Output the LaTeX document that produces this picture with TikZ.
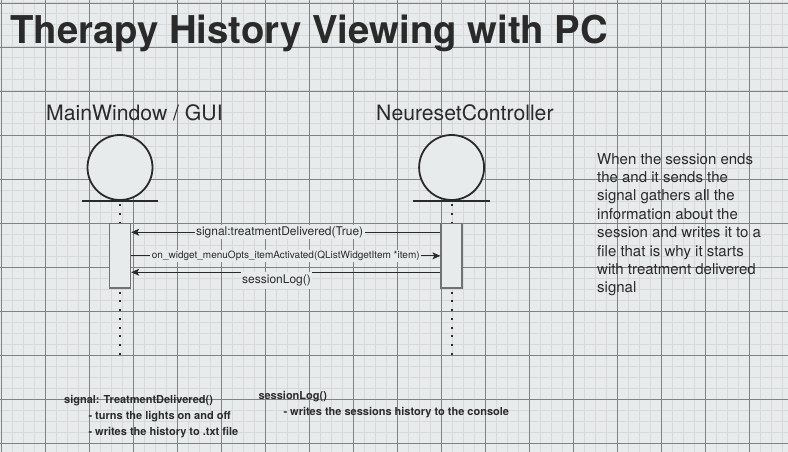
\documentclass[tikz,border=0pt]{standalone}
\usepackage{fontspec}
\setmainfont{TeX Gyre Heros}
\usetikzlibrary{arrows.meta,positioning}
\definecolor{colPaper}{RGB}{232,235,236}
\definecolor{colGridFine}{RGB}{214,216,218}
\definecolor{colGridMain}{RGB}{128,131,134}
\definecolor{colInk}{RGB}{42,42,42}
\definecolor{colBox}{RGB}{112,114,116}

\begin{document}
\begin{tikzpicture}[x=1pt, y=-1pt, text=colInk,
    head/.style={circle, draw=colInk, line width=1.8pt, fill=colPaper,
      minimum size=65pt, inner sep=0pt},
    act/.style={rectangle, draw=colBox, line width=1.4pt, fill=colPaper,
      minimum width=21pt, minimum height=64.5pt, inner sep=0pt},
    dots/.style={colInk, line width=2pt, dash pattern=on 2pt off 6.75pt},
    msg/.style={-{Stealth[length=8pt, width=7pt, inset=2pt]}, colInk,
      line width=0.9pt},
    lbl/.style={fill=colPaper, inner sep=1.5pt},
    txt/.style={inner sep=0pt, align=left}]
    \path[use as bounding box] (0,0) rectangle (788,452);
    \fill[colPaper] (0,0) rectangle (788,452);
    \foreach \gx in {1,12,...,787}
      \draw[colGridFine, line width=1pt] (\gx,0) -- (\gx,452);
    \foreach \gy in {3,14,...,452}
      \draw[colGridFine, line width=1pt] (0,\gy) -- (788,\gy);
    \foreach \gx in {1,45,...,787}
      \draw[colGridMain, line width=0.8pt] (\gx,0) -- (\gx,452);
    \foreach \gy in {3,47,...,452}
      \draw[colGridMain, line width=0.8pt] (0,\gy) -- (788,\gy);

    \node[txt, anchor=base west, font=\fontsize{38.3}{46}\selectfont\bfseries]
      (title) at (10,43.3) {Therapy History Viewing with PC};
    \node[txt, anchor=base west, font=\fontsize{21.2}{25}\selectfont]
      (guiName) at (46,121) {MainWindow / GUI};
    \node[txt, anchor=base west, font=\fontsize{21.2}{25}\selectfont]
      (ctlName) at (376,121) {NeuresetController};

    \draw[dots] (120,204) -- (120,356);
    \draw[dots] (451.6,204) -- (451.6,356);
    \node[head] (guiHead) at (120,167.5) {};
    \node[head] (ctlHead) at (451.6,167.5) {};
    \draw[colInk, line width=2pt] ([xshift=-38.4pt]guiHead.south)
      -- ([xshift=38.4pt]guiHead.south);
    \draw[colInk, line width=2pt] ([xshift=-38.4pt]ctlHead.south)
      -- ([xshift=38.4pt]ctlHead.south);
    \node[act, below=22pt of guiHead] (guiAct) {};
    \node[act, below=22pt of ctlHead] (ctlAct) {};

    \draw[msg] ([yshift=23.6pt]ctlAct.west) -- ([yshift=23.6pt]guiAct.east)
      node[lbl, pos=0.52, font=\fontsize{12}{14}\selectfont]
      {signal:treatmentDelivered(True)};
    \draw[msg] (guiAct.east) -- (ctlAct.west)
      node[lbl, midway, font=\fontsize{10}{12}\selectfont]
      {on\_widget\_menuOpts\_itemActivated(QListWidgetItem *item)};
    \draw[msg] ([yshift=-16.4pt]ctlAct.west) -- ([yshift=-16.4pt]guiAct.east)
      node[lbl, pos=0.53, yshift=-8pt, inner ysep=3pt,
        font=\fontsize{12}{14}\selectfont] {sessionLog()};

    \node[txt, anchor=north west, font=\fontsize{15}{18.4}\selectfont]
      (note) at (597,153) {When the session ends\\ the and it sends the\\
      signal gathers all the\\ information about the\\
      session and writes it to a\\ file that is why it starts\\
      with treatment delivered\\ signal};

    \node[txt, anchor=north west, font=\fontsize{11}{16}\selectfont\bfseries]
      (sigNote) at (64,395) {signal: TreatmentDelivered()\\
      \hspace*{24.3pt}- turns the lights on and off\\
      \hspace*{24.3pt}- writes the history to .txt file};
    \node[txt, anchor=north west, font=\fontsize{11}{16}\selectfont\bfseries]
      (logNote) at (258.3,391.3) {sessionLog()\\
      \hspace*{25pt}- writes the sessions history to the console};
  \end{tikzpicture}
\end{document}
